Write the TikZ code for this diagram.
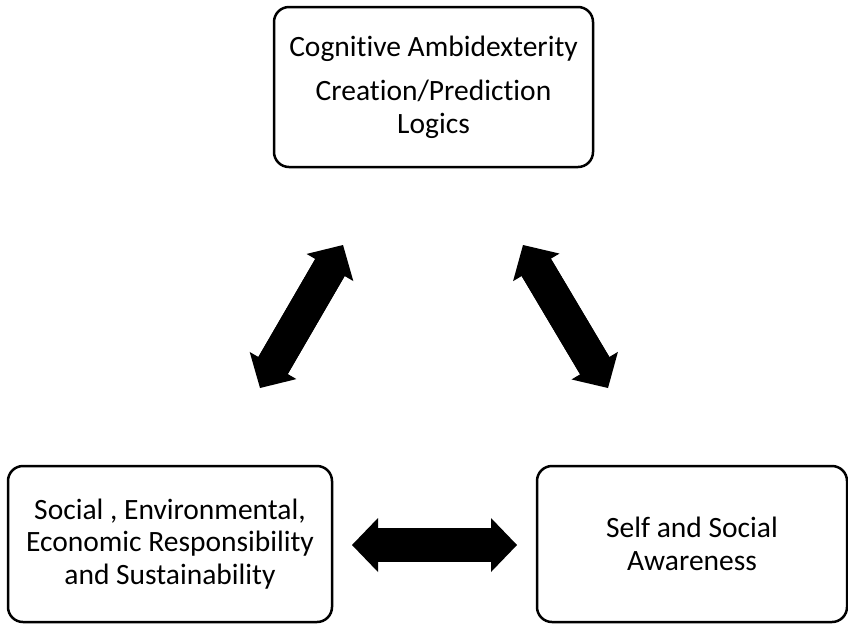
\documentclass[tikz,border=0pt]{standalone}
\usepackage{fontspec}
\setmainfont{Carlito}[Ligatures={NoCommon}]
\usetikzlibrary{arrows.meta,calc}
\tikzset{
  box/.style={draw=black, line width=2.5pt, rounded corners=15pt, inner sep=0pt,
    align=center, font=\fontsize{29.5}{32.5}\selectfont, text=black},
  blockarrow/.style={line width=34pt, line cap=butt,
    {Triangle[length=26pt,width=54pt,line width=0pt]}-{Triangle[length=26pt,width=54pt,line width=0pt]}},
  shaft/.style={line width=34pt, line cap=butt}
}
\begin{document}
\begin{tikzpicture}[x=1pt,y=-1pt]
\useasboundingbox (0,0) rectangle (848,625);
\node[box, minimum width=319pt, minimum height=160pt] (top) at (433.5,87)
  {Cognitive Ambidexterity\\[12pt]Creation/Prediction\\Logics};
\node[box, minimum width=324pt, minimum height=156pt] (left) at (170,544)
  {Social , Environmental,\\Economic Responsibility\\and Sustainability};
\node[box, minimum width=310pt, minimum height=156pt] (right) at (692,544)
  {Self and Social\\Awareness};
\coordinate (l1) at (343,245);
\coordinate (l2) at (260,388);
\coordinate (r1) at (523,245);
\coordinate (r2) at (608,388);
\coordinate (h1) at (352,545);
\coordinate (h2) at (517,545);
\draw[blockarrow] (l2) -- (l1);
\draw[blockarrow] (r1) -- (r2);
\draw[blockarrow] (h1) -- (h2);
\draw[shaft] ($(l2)!22pt!(l1)$) -- ($(l1)!22pt!(l2)$);
\draw[shaft] ($(r1)!22pt!(r2)$) -- ($(r2)!22pt!(r1)$);
\draw[shaft] ($(h1)!22pt!(h2)$) -- ($(h2)!22pt!(h1)$);
\end{tikzpicture}
\end{document}
